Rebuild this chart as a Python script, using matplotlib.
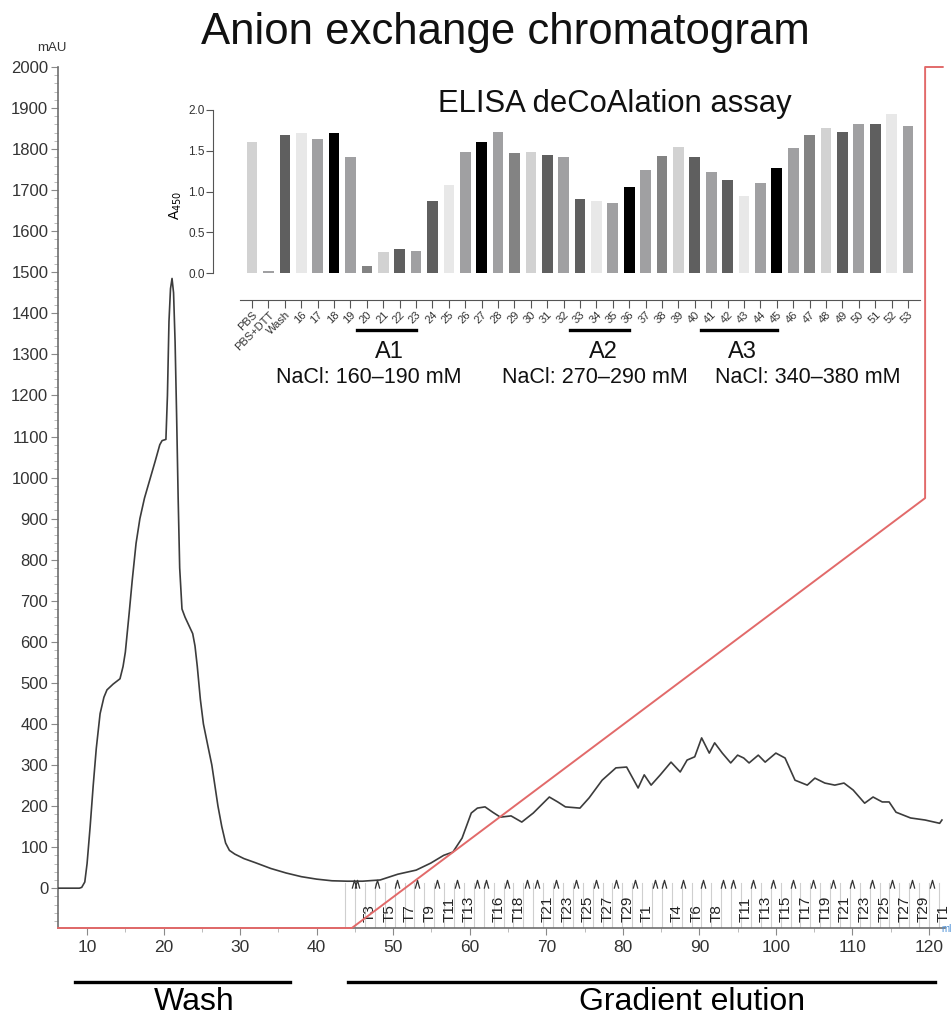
import matplotlib.pyplot as plt
from matplotlib.ticker import MultipleLocator
from matplotlib.transforms import blended_transform_factory
from matplotlib.path import Path

plt.rcParams['font.family'] = ['Liberation Sans', 'DejaVu Sans']

# UV trace (ml, mAU)
vol = [6.2, 9.0, 9.3, 9.7, 10.0, 10.4, 10.8, 11.2, 11.7, 12.2, 12.6, 13.4, 14.3, 14.7,
       15.0, 15.5, 15.9, 16.4, 16.9, 17.5, 18.2, 18.9, 19.5, 19.8, 20.3, 20.5, 20.7,
       20.9, 21.1, 21.3, 21.5, 21.7, 21.9, 22.1, 22.4, 22.8, 23.3, 23.8, 24.1, 24.4,
       24.8, 25.2, 25.8, 26.3, 26.7, 27.1, 27.6, 28.1, 28.6, 29.3, 30.5, 32.0, 34.0,
       36.0, 38.0, 40.0, 42.0, 44.0, 46.0, 48.3, 50.6, 53.0, 54.9, 56.6, 57.8, 59.0,
       60.2, 61.0, 62.0, 63.0, 64.0, 65.4, 66.8, 68.3, 70.4, 71.5, 72.5, 74.4, 75.6,
       77.3, 79.1, 80.5, 82.0, 82.8, 83.7, 84.9, 86.3, 87.5, 88.4, 89.4, 90.3, 91.3,
       92.0, 93.0, 94.1, 95.0, 95.8, 96.5, 97.7, 98.6, 100.0, 101.2, 102.5, 104.1,
       105.1, 106.4, 107.7, 108.9, 110.1, 111.6, 112.7, 113.9, 114.8, 115.7, 117.6,
       119.5, 121.4, 121.7]
mau = [0, 0, 2, 15, 60, 150, 250, 340, 425, 465, 483, 497, 510, 540,
       575, 670, 750, 840, 900, 950, 995, 1040, 1080, 1090, 1093, 1200, 1380,
       1460, 1485, 1450, 1330, 1150, 950, 780, 680, 660, 640, 620, 590, 540,
       460, 400, 345, 300, 250, 200, 150, 110, 92, 83, 72, 62, 48,
       37, 28, 22, 18, 17, 17, 20, 34, 44, 61, 80, 88, 122,
       183, 195, 198, 185, 173, 176, 161, 183, 222, 210, 198, 195, 220,
       263, 293, 295, 244, 276, 251, 276, 307, 283, 312, 320, 366, 329,
       354, 329, 305, 324, 317, 305, 324, 307, 329, 317, 263, 251,
       268, 256, 251, 256, 239, 207, 222, 210, 210, 185, 171,
       166, 158, 166]

# gradient trace drawn on the mAU scale
grad_vol = [6.2, 44.6, 119.5, 119.5, 121.8]
grad_val = [-97, -97, 950, 2000, 2000]

# fractions
frac_start = 43.73
frac_size = 1.293
frac_idx = [2, 4, 6, 8, 10, 12, 15, 17, 20, 22, 24, 26, 28,
            30, 33, 35, 37, 40, 42, 44, 46, 48, 50, 52, 54, 56, 58, 60]
frac_labels = ['T3', 'T5', 'T7', 'T9', 'T11', 'T13', 'T16', 'T18', 'T21', 'T23', 'T25',
               'T27', 'T29', 'T1', 'T4', 'T6', 'T8', 'T11', 'T13', 'T15', 'T17', 'T19',
               'T21', 'T23', 'T25', 'T27', 'T29', 'T1']
mark_vol = [44.9, 45.3, 47.9, 50.5, 53.1, 55.7, 58.3, 61.0, 62.1, 64.9, 67.5, 68.8,
            71.3, 73.9, 76.5, 79.1, 81.6, 84.2, 85.4, 87.9, 90.5, 93.1, 94.4, 97.0,
            99.6, 102.2, 104.8, 107.5, 109.9, 112.6, 115.2, 117.8, 120.4]

# phases
phase_names = ['Wash', 'Gradient elution']
phase_from = [8.4, 44.1]
phase_to = [36.5, 120.8]

# ELISA inset
elisa_names = ['PBS', 'PBS+DTT', 'Wash'] + [str(n) for n in range(16, 54)]
elisa_a450 = [1.61, 0.03, 1.69, 1.72, 1.64, 1.72, 1.42, 0.09, 0.26, 0.30, 0.27,
              0.89, 1.08, 1.49, 1.61, 1.73, 1.47, 1.49, 1.45, 1.42, 0.91, 0.88,
              0.86, 1.06, 1.26, 1.44, 1.55, 1.42, 1.24, 1.14, 0.95, 1.10, 1.29,
              1.53, 1.69, 1.78, 1.73, 1.83, 1.83, 1.95, 1.80]
L, M, D, V, K, G = '#d2d2d2', '#a0a0a2', '#5f5f5f', '#e8e8e8', '#000000', '#838383'
elisa_colors = [L, M, D, V, M, K, M, G, L,
                D, M, D, V, M, K, M, G, L,
                D, M, D, V, M, K, M, G, L,
                D, M, D, V, M, K, M, G, L,
                D, M, D, V, M]
pools = ['A1', 'A2', 'A3']
pool_first = ['20', '33', '41']
pool_last = ['23', '36', '45']
pool_nacl = ['NaCl: 160\u2013190 mM', 'NaCl: 270\u2013290 mM', 'NaCl: 340\u2013380 mM']

fig = plt.figure(figsize=(9.53, 10.16), dpi=100)
ax = fig.add_axes([58 / 953, 1 - 928 / 1016, 887 / 953, 861 / 1016])
ax.set_xlim(6.2, 122.1)
ax.set_ylim(-97, 2000)

for s in ['top', 'right']:
    ax.spines[s].set_visible(False)
for s in ['left', 'bottom']:
    ax.spines[s].set_color('#6e6e6e')
    ax.spines[s].set_linewidth(1.2)
ax.xaxis.set_major_locator(MultipleLocator(10))
ax.xaxis.set_minor_locator(MultipleLocator(5))
ax.yaxis.set_major_locator(MultipleLocator(100))
ax.yaxis.set_minor_locator(MultipleLocator(20))
ax.set_xticks(range(10, 121, 10))
ax.tick_params(which='major', length=5, color='#8a8a8a', labelsize=12.5, labelcolor='#333333')
ax.tick_params(which='minor', length=3, color='#b0b0b0')
ax.tick_params(axis='y', which='major', labelsize=12, pad=2)

# fraction marks
frac_edges = [frac_start + i * frac_size for i in range(62)]
for fx in frac_edges:
    ax.plot([fx, fx], [-97, 12], color='#cfcfcf', lw=0.8, zorder=1)
caret = Path([(-0.55, -1), (0, 1), (0.55, -1)], [Path.MOVETO, Path.LINETO, Path.LINETO])
ax.plot(mark_vol, [10] * len(mark_vol), ls='none', marker=caret, ms=6, mew=0.9,
        mec='#333333', mfc='none', zorder=2)
for i, lab in zip(frac_idx, frac_labels):
    ax.text(frac_start + (i + 0.5) * frac_size, -83, lab, rotation=90, ha='center',
            va='bottom', fontsize=11, color='#222222', zorder=2)

ax.plot(vol, mau, color='#3c3c3c', lw=1.2, zorder=3)
ax.plot(grad_vol, grad_val, color='#e26a6a', lw=1.4, zorder=4, clip_on=False)

ax.text(-0.007, 1.015, 'mAU', transform=ax.transAxes, ha='center', va='bottom',
        fontsize=9.5, color='#333333')
fig.text(952 / 953, 1 - 929 / 1016, 'ml', ha='right', va='center',
         fontsize=7, color='#4a8fd6')

fig.text(0.53, 0.968, 'Anion exchange chromatogram', ha='center', va='center',
         fontsize=31.5, color='#111111')

tr = blended_transform_factory(ax.transData, fig.transFigure)
for name, a, b in zip(phase_names, phase_from, phase_to):
    ax.plot([a, b], [1 - 982 / 1016] * 2, color='black', lw=2.4, transform=tr,
            clip_on=False)
ax.text(24.0, 0.014, phase_names[0], transform=tr, ha='center', va='center', fontsize=23)
ax.text(89.0, 0.014, phase_names[1], transform=tr, ha='center', va='center', fontsize=23)

# ELISA inset
ax2 = fig.add_axes([213 / 953, 1 - 300 / 1016, 707 / 953, 190 / 1016])
pos = list(range(len(elisa_names)))
ax2.bar(pos, elisa_a450, width=0.65, color=elisa_colors)
ax2.set_xlim(-2.38, 40.73)
ax2.set_ylim(-0.33, 2.0)
ax2.patch.set_alpha(0)
for s in ['top', 'right']:
    ax2.spines[s].set_visible(False)
for s in ['left', 'bottom']:
    ax2.spines[s].set_color('#555555')
    ax2.spines[s].set_linewidth(0.8)
ax2.spines['left'].set_bounds(0, 2)
ax2.spines['bottom'].set_bounds(-0.73, 40.73)
ax2.set_yticks([0, 0.5, 1.0, 1.5, 2.0])
ax2.set_yticklabels(['0.0', '0.5', '1.0', '1.5', '2.0'])
ax2.set_xticks(pos)
ax2.set_xticklabels(elisa_names, rotation=45, ha='right', rotation_mode='anchor')
ax2.tick_params(axis='y', length=5, width=0.8, color='#555555', labelsize=8.5,
                labelcolor='#333333', pad=1)
ax2.tick_params(axis='x', length=6, width=0.8, color='#555555', labelsize=8,
                labelcolor='#333333', pad=1)
ax2.set_ylabel('A$_{450}$', fontsize=10, labelpad=3)
ax2.text(0.569, 1.03, 'ELISA deCoAlation assay', transform=ax2.transAxes,
         ha='center', va='center', fontsize=22.3, color='#111111')

for p, f, l in zip(pools, pool_first, pool_last):
    i0 = elisa_names.index(f)
    i1 = elisa_names.index(l)
    ax2.plot([i0 - 0.6, i1], [-0.70, -0.70], color='black', lw=2.4, clip_on=False)
    ax2.text((i0 - 0.6 + i1) / 2 + 0.2, -0.97, p, ha='center', va='center', fontsize=17,
             color='#111111')
for nacl, cx in zip(pool_nacl, [7.13, 20.9, 33.9]):
    ax2.text(cx, -1.28, nacl, ha='center', va='center', fontsize=15.5, color='#111111')

fig.savefig('out.png', dpi=100)
